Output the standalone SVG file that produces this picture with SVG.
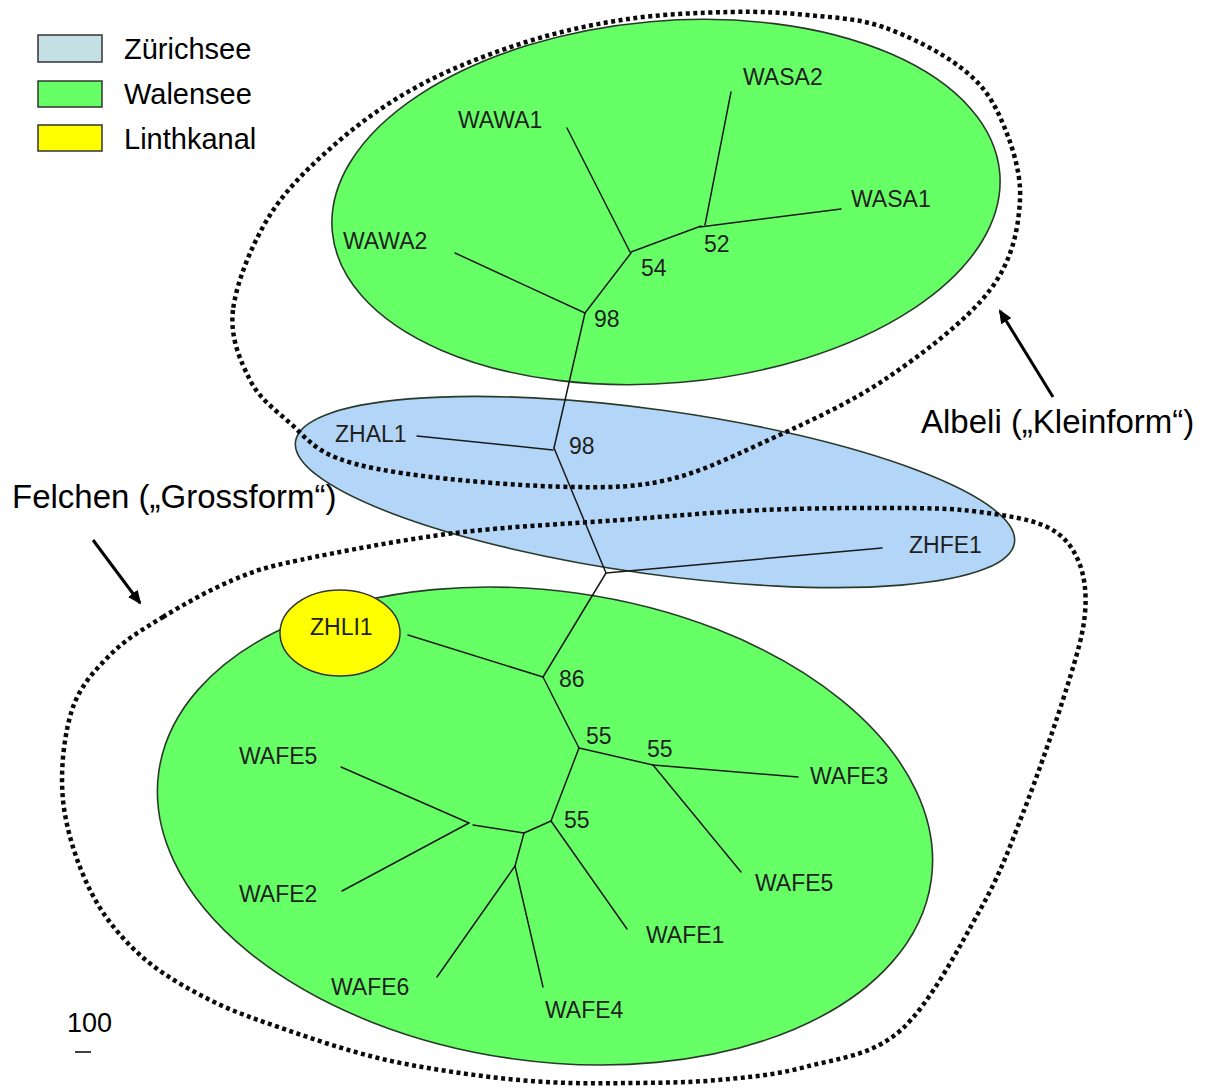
<svg xmlns="http://www.w3.org/2000/svg" width="1209" height="1090" viewBox="0 0 1209 1090">
<style>
text{font-family:"Liberation Sans",Arial,sans-serif}
.lbl{font-size:23px;fill:#1f1f1f}
.big{font-size:33px;fill:#000}
.leg{font-size:29px;fill:#000}
.br{stroke:#1a1a1a;stroke-width:1.5;fill:none;stroke-linecap:round}
.dot{fill:none;stroke:#0a0a0a;stroke-width:4.5;stroke-dasharray:4 3.5}
.ell{stroke:#2a3a2a;stroke-width:1.6}
.arr{stroke:#000;stroke-width:3;fill:none}
</style>
<defs>
<marker id="ah" markerUnits="userSpaceOnUse" markerWidth="14" markerHeight="12" refX="12" refY="6" orient="auto">
<path d="M0,0 L14,6 L0,12 z" fill="#000"/>
</marker>
</defs>
<rect width="1209" height="1090" fill="#fff"/>

<g id="legend">
<g id="legend-zurichsee"><rect x="38" y="35" width="64" height="27" fill="#c4e0e4" stroke="#333" stroke-width="1.5"/><text class="leg" x="124" y="59">Zürichsee</text></g>
<g id="legend-walensee"><rect x="38" y="81" width="64" height="26" fill="#66ff66" stroke="#333" stroke-width="1.5"/><text class="leg" x="124" y="104">Walensee</text></g>
<g id="legend-linthkanal"><rect x="38" y="125" width="64" height="26" fill="#ffff00" stroke="#333" stroke-width="1.5"/><text class="leg" x="124" y="149">Linthkanal</text></g>
</g>

<g id="regions">
<ellipse id="walensee-top" class="ell" cx="666" cy="202" rx="335" ry="181" transform="rotate(-5 666 202)" fill="#66ff66"/>
<ellipse id="walensee-bottom" class="ell" cx="545" cy="826" rx="390" ry="235" transform="rotate(8 545 826)" fill="#66ff66"/>
<ellipse id="zurichsee" class="ell" cx="655" cy="492" rx="363" ry="82" transform="rotate(8 655 492)" fill="#b3d5f7"/>
</g>

<g id="groups">
<path id="albeli-ring" class="dot" d="M233,310 C229.7,337.5 240.5,361.2 250,380 C259.5,398.8 275.5,410 290,423 C304.5,436 313.5,449 337,458 C360.5,467 391.7,472.2 431,477 C470.3,481.8 533.7,486.5 573,487 C612.3,487.5 635.5,487.3 667,480 C698.5,472.7 725.8,459.7 762,443 C798.2,426.3 846,405.5 884,380 C922,354.5 967.3,320 990,290 C1012.7,260 1018.3,228.8 1020,200 C1021.7,171.2 1010,139.2 1000,117 C990,94.8 979.5,82 960,67 C940.5,52 908.5,35.7 883,27 C857.5,18.3 832.5,17.5 807,15 C781.5,12.5 759.8,11.3 730,12 C700.2,12.7 662,14 628,19 C594,24 560,31.3 526,42 C492,52.7 455,66.7 424,83 C393,99.3 365.7,118 340,140 C314.3,162 287.8,186.7 270,215 C252.2,243.3 236.3,282.5 233,310 Z"/>
<path id="felchen-ring" class="dot" d="M163,617 C183.5,604.5 210.2,589.5 233,580 C255.8,570.5 263,567.8 300,560 C337,552.2 401.7,539.7 455,533 C508.3,526.3 568.8,523.8 620,520 C671.2,516.2 714.8,512 762,510 C809.2,508 866.7,507.7 903,508 C939.3,508.3 956,508.8 980,512 C1004,515.2 1030.7,519 1047,527 C1063.3,535 1071.7,545.7 1078,560 C1084.3,574.3 1086.8,591.8 1085,613 C1083.2,634.2 1077.3,653.7 1067,687 C1056.7,720.3 1037.5,775.8 1023,813 C1008.5,850.2 1000.3,873.8 980,910 C959.7,946.2 930.2,1003.8 901,1030 C871.8,1056.2 835.5,1058.7 805,1067 C774.5,1075.3 746.8,1077.3 718,1080 C689.2,1082.7 660.7,1082.7 632,1083 C603.3,1083.3 574.7,1083.7 546,1082 C517.3,1080.3 488.7,1077.2 460,1073 C431.3,1068.8 402.8,1064.2 374,1057 C345.2,1049.8 314.3,1039.5 287,1030 C259.7,1020.5 234.5,1012.5 210,1000 C185.5,987.5 160,973.3 140,955 C120,936.7 102.8,915.8 90,890 C77.2,864.2 66,830 63,800 C60,770 64.2,734.2 72,710 C79.8,685.8 94.8,670.5 110,655 C125.2,639.5 142.5,629.5 163,617 Z"/>
</g>

<g id="linthkanal-node">
<ellipse cx="340" cy="633" rx="60" ry="43" fill="#ffff00" stroke="#333" stroke-width="1.5"/>
</g>

<g id="connectors">
<line class="br" x1="455" y1="253" x2="585" y2="313"/>
<line class="br" x1="567" y1="128" x2="630" y2="252"/>
<line class="br" x1="585" y1="313" x2="631" y2="253"/>
<line class="br" x1="631" y1="252" x2="701" y2="226"/>
<line class="br" x1="731" y1="92" x2="705" y2="225"/>
<line class="br" x1="700" y1="227" x2="841" y2="209"/>
<line class="br" x1="585" y1="313" x2="554" y2="448"/>
<line class="br" x1="417" y1="436" x2="553" y2="450"/>
<line class="br" x1="554" y1="448" x2="606" y2="573"/>
<line class="br" x1="606" y1="573" x2="882" y2="548"/>
<line class="br" x1="606" y1="573" x2="543" y2="677"/>
<line class="br" x1="408" y1="635" x2="543" y2="677"/>
<line class="br" x1="543" y1="677" x2="579" y2="748"/>
<line class="br" x1="579" y1="748" x2="653" y2="765"/>
<line class="br" x1="653" y1="765" x2="798" y2="777"/>
<line class="br" x1="653" y1="765" x2="741" y2="872"/>
<line class="br" x1="579" y1="748" x2="551" y2="821"/>
<line class="br" x1="551" y1="821" x2="627" y2="929"/>
<line class="br" x1="551" y1="821" x2="524" y2="833"/>
<line class="br" x1="524" y1="833" x2="473" y2="825"/>
<line class="br" x1="469" y1="823" x2="341" y2="767"/>
<line class="br" x1="469" y1="823" x2="342" y2="891"/>
<line class="br" x1="524" y1="833" x2="515" y2="866"/>
<line class="br" x1="515" y1="866" x2="437" y2="977"/>
<line class="br" x1="515" y1="866" x2="543" y2="987"/>
<line class="arr" x1="1053" y1="397" x2="1000" y2="311" marker-end="url(#ah)"/>
<line class="arr" x1="93" y1="540" x2="140" y2="603" marker-end="url(#ah)"/>
</g>

<g id="labels">
<g id="n-wasa2"><text class="lbl" x="743" y="85">WASA2</text></g>
<g id="n-wawa1"><text class="lbl" x="458" y="128">WAWA1</text></g>
<g id="n-wasa1"><text class="lbl" x="851" y="207">WASA1</text></g>
<g id="n-wawa2"><text class="lbl" x="343" y="249">WAWA2</text></g>
<g id="b-52"><text class="lbl" x="704" y="252">52</text></g>
<g id="b-54"><text class="lbl" x="641" y="276">54</text></g>
<g id="b-98a"><text class="lbl" x="594" y="327">98</text></g>
<g id="n-zhal1"><text class="lbl" x="335" y="442">ZHAL1</text></g>
<g id="b-98b"><text class="lbl" x="569" y="454">98</text></g>
<g id="n-zhfe1"><text class="lbl" x="909" y="553">ZHFE1</text></g>
<g id="n-zhli1"><text class="lbl" x="310" y="635">ZHLI1</text></g>
<g id="b-86"><text class="lbl" x="559" y="687">86</text></g>
<g id="b-55a"><text class="lbl" x="586" y="744">55</text></g>
<g id="b-55b"><text class="lbl" x="647" y="757">55</text></g>
<g id="n-wafe5a"><text class="lbl" x="239" y="764">WAFE5</text></g>
<g id="n-wafe3"><text class="lbl" x="810" y="784">WAFE3</text></g>
<g id="b-55c"><text class="lbl" x="564" y="828">55</text></g>
<g id="n-wafe5b"><text class="lbl" x="755" y="891">WAFE5</text></g>
<g id="n-wafe2"><text class="lbl" x="239" y="902">WAFE2</text></g>
<g id="n-wafe1"><text class="lbl" x="646" y="943">WAFE1</text></g>
<g id="n-wafe6"><text class="lbl" x="331" y="995">WAFE6</text></g>
<g id="n-wafe4"><text class="lbl" x="545" y="1018">WAFE4</text></g>
<g id="albeli-label"><text class="big" x="921" y="433">Albeli („Kleinform“)</text></g>
<g id="felchen-label"><text class="big" x="12" y="508">Felchen („Grossform“)</text></g>
<g id="scale"><text x="67" y="1032" style="font-size:27px;fill:#000">100</text><line x1="75" y1="1052" x2="91" y2="1052" stroke="#000" stroke-width="1.5"/></g>
</g>
</svg>
